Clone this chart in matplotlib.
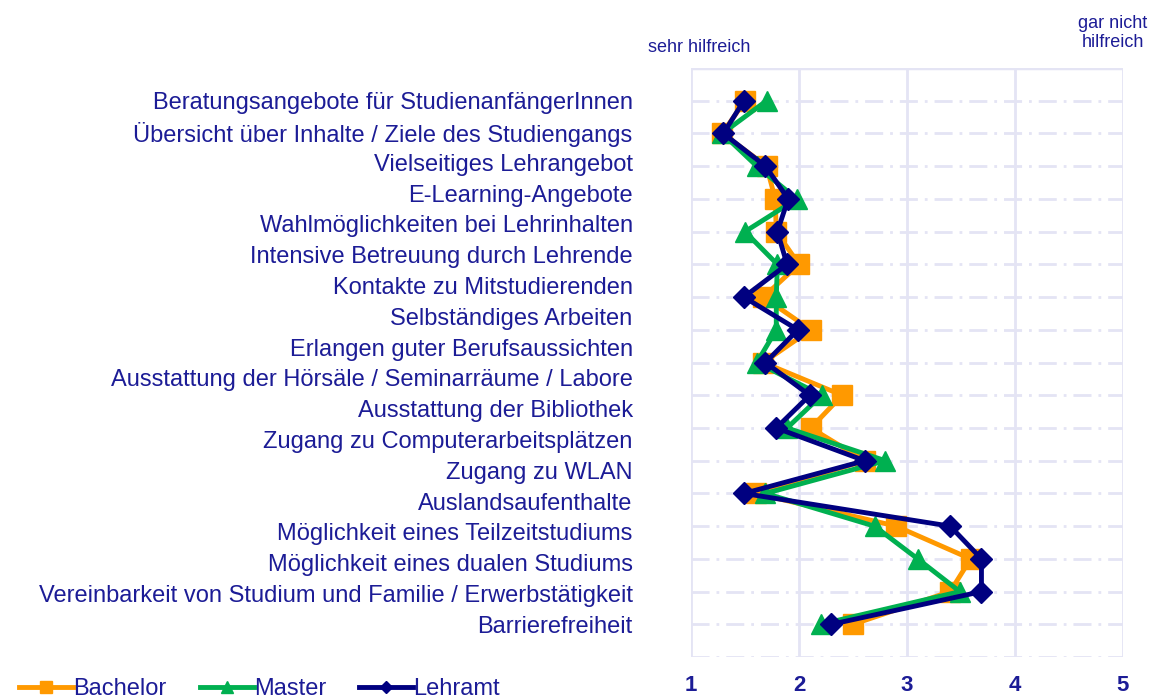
import matplotlib
matplotlib.use("Agg")
import matplotlib.pyplot as plt
import numpy as np

plt.rcParams['font.family'] = ['Liberation Sans', 'DejaVu Sans']

labels = [
    "Beratungsangebote für StudienanfängerInnen",
    "Übersicht über Inhalte / Ziele des Studiengangs",
    "Vielseitiges Lehrangebot",
    "E-Learning-Angebote",
    "Wahlmöglichkeiten bei Lehrinhalten",
    "Intensive Betreuung durch Lehrende",
    "Kontakte zu Mitstudierenden",
    "Selbständiges Arbeiten",
    "Erlangen guter Berufsaussichten",
    "Ausstattung der Hörsäle / Seminarräume / Labore",
    "Ausstattung der Bibliothek",
    "Zugang zu Computerarbeitsplätzen",
    "Zugang zu WLAN",
    "Auslandsaufenthalte",
    "Möglichkeit eines Teilzeitstudiums",
    "Möglichkeit eines dualen Studiums",
    "Vereinbarkeit von Studium und Familie / Erwerbstätigkeit",
    "Barrierefreiheit",
]

# 17 data rows (as drawn in the original chart)
bachelor = [1.50, 1.29, 1.70, 1.78, 1.79, 2.00, 1.67, 2.11, 1.67, 2.40, 2.11, 2.61, 1.60, 2.90, 3.59, 3.40, 2.50]
master   = [1.70, 1.29, 1.61, 1.98, 1.50, 1.80, 1.79, 1.79, 1.61, 2.21, 1.89, 2.80, 1.69, 2.70, 3.10, 3.49, 2.20]
lehramt  = [1.49, 1.30, 1.69, 1.90, 1.80, 1.89, 1.49, 1.99, 1.69, 2.10, 1.79, 2.61, 1.49, 3.40, 3.69, 3.69, 2.30]

txt = '#1c1c96'
grid = '#e4e4f4'

fig = plt.figure(figsize=(11.58, 6.99), dpi=100)
ax = fig.add_axes([0.5967, 0.06, 0.373, 0.8427])

rows = np.arange(len(bachelor))
ax.plot(bachelor, rows, color='#ff9900', lw=3.5, marker='s', ms=15, label='Bachelor', zorder=3)
ax.plot(master, rows, color='#00b050', lw=3.5, marker='^', ms=15, label='Master', zorder=4)
ax.plot(lehramt, rows, color='#000080', lw=3.5, marker='D', ms=11, label='Lehramt', zorder=5)

ax.set_xlim(1, 5)
ax.set_ylim(len(bachelor), -1)
for x in range(1, 6):
    ax.axvline(x, color=grid, lw=2, zorder=1)
for y in range(len(bachelor) + 1):
    ax.axhline(y, color=grid, lw=2, ls=(0, (6.5, 2.5, 1, 2.5)), zorder=1)
ax.axhline(-1, color=grid, lw=2.5, zorder=1)
for s in ax.spines.values():
    s.set_visible(False)

ax.set_xticks([1, 2, 3, 4, 5])
ax.set_xticklabels(['1', '2', '3', '4', '5'], fontsize=16, fontweight='bold', color=txt)
ax.tick_params(axis='x', length=0, pad=13)
ax.set_yticks(np.linspace(0, len(bachelor) - 1, len(labels)))
ax.set_yticklabels(labels, fontsize=17, color=txt)
ax.tick_params(axis='y', length=0, pad=42)

fig.text(0.604, 0.932, 'sehr hilfreich', fontsize=13, color=txt, ha='center', va='center')
fig.text(0.961, 0.953, 'gar nicht\nhilfreich', fontsize=13, color=txt, ha='center', va='center',
         linespacing=1.1)

fig.legend(loc='lower left', bbox_to_anchor=(-0.002, -0.032), ncol=3, frameon=False,
           fontsize=17, labelcolor=txt, markerscale=0.6, handlelength=2.3,
           handletextpad=0.0, columnspacing=1.4)

fig.savefig('out.png', dpi=100)
